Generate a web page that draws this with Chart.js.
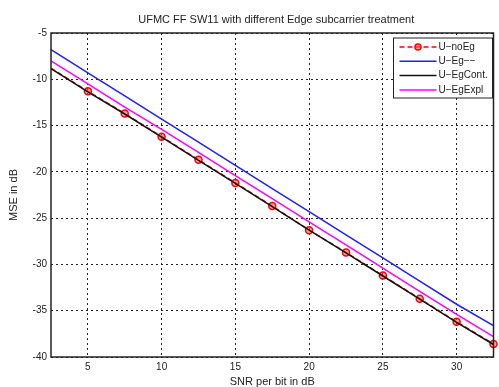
<!DOCTYPE html>
<html>
<head>
<meta charset="utf-8">
<script src="https://cdn.jsdelivr.net/npm/chart.js@4"></script>
<style>
  html, body { margin: 0; padding: 0; background: #fff; }
  #wrap { width: 499px; height: 387px; }
</style>
</head>
<body>
<div id="wrap"><canvas id="mseChart" width="499" height="387"></canvas></div>
<script>
// SNR points (dB) and MSE values
const snr = [2.5, 5, 7.5, 10, 12.5, 15, 17.5, 20, 22.5, 25, 27.5, 30, 32.5];
const mseNoEg = [-8.8, -11.3, -13.7, -16.2, -18.7, -21.2, -23.7, -26.3, -28.7, -31.2, -33.7, -36.2, -38.6];
const mseEg = [-6.8, -9.3, -11.8, -14.3, -16.8, -19.3, -21.8, -24.3, -26.8, -29.3, -31.8, -34.3, -36.6];
const mseEgCont = [-8.85, -11.35, -13.75, -16.25, -18.75, -21.25, -23.75, -26.3, -28.75, -31.25, -33.75, -36.25, -38.65];
const mseEgExpl = [-8.0, -10.5, -13.0, -15.4, -17.9, -20.4, -22.9, -25.4, -27.9, -30.4, -32.9, -35.4, -37.8];

const seriesNames = ["U\u2212noEg", "U\u2212Eg\u2212\u2212", "U\u2212EgCont.", "U\u2212EgExpl"];
const xTicks = [5, 10, 15, 20, 25, 30];
const yTicks = [-5, -10, -15, -20, -25, -30, -35, -40];

const titleText = "UFMC FF SW11 with different Edge subcarrier treatment";
const fontFamily = "'Liberation Sans', Arial, sans-serif";

function toPoints(ys) {
  return snr.map((x, i) => ({ x: x, y: ys[i] }));
}

// title centred over the plot area, like the original
const plotTitle = {
  id: "plotTitle",
  afterDraw(chart) {
    const c = chart.ctx;
    const a = chart.chartArea;
    c.save();
    c.font = "11px " + fontFamily;
    c.fillStyle = "#222";
    c.textAlign = "center";
    c.textBaseline = "middle";
    c.fillText(titleText, (a.left + a.right) / 2 + 4, 20);
    c.restore();
  }
};

// axes frame on all four sides
const frameBox = {
  id: "frameBox",
  afterDatasetsDraw(chart) {
    const c = chart.ctx;
    const a = chart.chartArea;
    c.save();
    c.strokeStyle = "#222";
    c.lineWidth = 1.5;
    c.strokeRect(a.left, a.top, a.right - a.left, a.bottom - a.top);
    c.restore();
  }
};

// MATLAB-style legend box in the upper right corner
const boxLegend = {
  id: "boxLegend",
  afterDraw(chart) {
    const c = chart.ctx;
    const a = chart.chartArea;
    const w = 99, h = 60;
    const x0 = a.right - w - 1, y0 = a.top + 5;
    c.save();
    c.fillStyle = "#fff";
    c.fillRect(x0, y0, w, h);
    c.strokeStyle = "#222";
    c.lineWidth = 1;
    c.strokeRect(x0, y0, w, h);
    c.font = "10px " + fontFamily;
    c.textBaseline = "middle";
    chart.data.datasets.forEach((ds, i) => {
      const y = y0 + 9 + i * 14.3;
      c.strokeStyle = ds.borderColor;
      c.lineWidth = ds.borderWidth;
      c.setLineDash(ds.borderDash || []);
      c.beginPath();
      c.moveTo(x0 + 6, y);
      c.lineTo(x0 + 43, y);
      c.stroke();
      c.setLineDash([]);
      if (ds.showMarker) {
        c.beginPath();
        c.arc(x0 + 24.5, y, 3, 0, Math.PI * 2);
        c.fillStyle = ds.pointBackgroundColor;
        c.fill();
        c.strokeStyle = ds.pointBorderColor;
        c.lineWidth = 1.5;
        c.stroke();
      }
      c.fillStyle = "#222";
      c.fillText(ds.label, x0 + 45, y);
    });
    c.restore();
  }
};

const ctx = document.getElementById("mseChart").getContext("2d");
const mseChart = new Chart(ctx, {
  type: "line",
  data: {
    datasets: [
      {
        label: seriesNames[0],
        data: toPoints(mseNoEg),
        borderColor: "#ff0000",
        borderWidth: 1.5,
        borderDash: [5, 3],
        pointRadius: snr.map((x, i) => (i === 0 ? 0 : 3.5)),
        pointBorderColor: "#ff0000",
        pointBackgroundColor: "rgba(255,90,90,0.55)",
        pointBorderWidth: 1.5,
        showMarker: true,
        order: 4,
        clip: false
      },
      {
        label: seriesNames[1],
        data: toPoints(mseEg),
        borderColor: "#1f1fff",
        borderWidth: 1.5,
        pointRadius: 0,
        order: 3,
        clip: false
      },
      {
        label: seriesNames[2],
        data: toPoints(mseEgCont),
        borderColor: "#111111",
        borderWidth: 1.5,
        pointRadius: 0,
        order: 1,
        clip: false
      },
      {
        label: seriesNames[3],
        data: toPoints(mseEgExpl),
        borderColor: "#ff00ff",
        borderWidth: 1.5,
        pointRadius: 0,
        order: 2,
        clip: false
      }
    ]
  },
  options: {
    responsive: false,
    animation: false,
    layout: { padding: { top: 33, right: 4, left: 0, bottom: 0 } },
    plugins: {
      legend: { display: false },
      title: { display: false },
      tooltip: { enabled: false }
    },
    scales: {
      x: {
        type: "linear",
        min: 2.5,
        max: 32.5,
        afterBuildTicks: (scale) => { scale.ticks = xTicks.map(v => ({ value: v })); },
        afterFit: (scale) => { scale.height = 30; },
        grid: {
          color: "#222",
          lineWidth: 1,
          drawTicks: false
        },
        border: { display: false, dash: [2, 3] },
        ticks: {
          padding: 4,
          color: "#222",
          font: { family: fontFamily, size: 10 }
        },
        title: {
          display: true,
          text: "SNR per bit in dB",
          color: "#222",
          font: { family: fontFamily, size: 11 },
          padding: { top: 0, bottom: -2 }
        }
      },
      y: {
        type: "linear",
        min: -40,
        max: -5,
        afterBuildTicks: (scale) => { scale.ticks = yTicks.map(v => ({ value: v })); },
        afterFit: (scale) => { scale.width = 51; },
        grid: {
          color: "#222",
          lineWidth: 1,
          drawTicks: false
        },
        border: { display: false, dash: [2, 3] },
        ticks: {
          padding: 4,
          color: "#222",
          font: { family: fontFamily, size: 10 }
        },
        title: {
          display: true,
          text: "MSE in dB",
          color: "#222",
          font: { family: fontFamily, size: 11 },
          padding: { top: 7, bottom: 4 }
        }
      }
    }
  },
  plugins: [plotTitle, frameBox, boxLegend]
});
</script>
</body>
</html>
